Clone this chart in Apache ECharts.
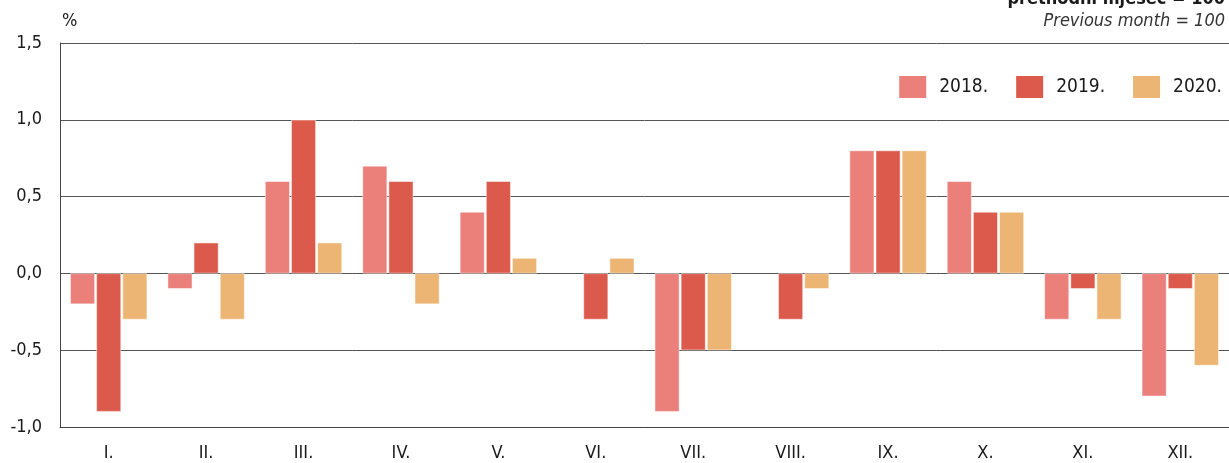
<!DOCTYPE html>
<html>
<head>
<meta charset="utf-8">
<script src="https://cdn.jsdelivr.net/npm/echarts@6/dist/echarts.min.js"></script>
<style>
  html, body { margin: 0; padding: 0; background: #fff; }
  #chart { width: 1229px; height: 463px; }
</style>
</head>
<body>
<div id="chart"></div>
<script>
const months = ["I.", "II.", "III.", "IV.", "V.", "VI.", "VII.", "VIII.", "IX.", "X.", "XI.", "XII."];
const seriesNames = ["2018.", "2019.", "2020."];
const values2018 = [-0.2, -0.1, 0.6, 0.7, 0.4, null, -0.9, null, 0.8, 0.6, -0.3, -0.8];
const values2019 = [-0.9, 0.2, 1.0, 0.6, 0.6, -0.3, -0.5, -0.3, 0.8, 0.4, -0.1, -0.1];
const values2020 = [-0.3, -0.3, 0.2, -0.2, 0.1, 0.1, -0.5, -0.1, 0.8, 0.4, -0.3, -0.6];

const fontFamily = "'Liberation Sans Narrow', 'DejaVu Sans Condensed', 'Liberation Sans', sans-serif";
const colors = ["#eb7f7a", "#dc5a4b", "#edb573"];

const chart = echarts.init(document.getElementById("chart"));

function bar(name, data, color) {
    return {
        name,
        type: "bar",
        data,
        barCategoryGap: "21%",
        barGap: "6%",
        itemStyle: { color, borderColor: "#fff", borderWidth: 0.5 }
    };
}

chart.setOption({
    animation: false,
    textStyle: { fontFamily },
    grid: { left: 60, right: 0, top: 43, bottom: 36 },
    graphic: [
        { type: "text", left: 62, top: 12, style: { text: "%", font: "18px " + fontFamily, fill: "#1a1a1a" } },
        { type: "text", right: 4, top: -10, style: { text: "prethodni mjesec = 100", font: "bold 18px " + fontFamily, fill: "#1a1a1a" } },
        { type: "text", right: 4, top: 12, style: { text: "Previous month = 100", font: "italic 18px " + fontFamily, fill: "#333" } }
    ],
    legend: {
        right: 2,
        top: 69,
        itemWidth: 29,
        itemHeight: 24,
        itemGap: 26,
        icon: "rect",
        textStyle: { fontSize: 19, color: "#1a1a1a", fontFamily, padding: [0, 0, 0, 7] },
        data: seriesNames
    },
    xAxis: {
        type: "category",
        data: months,
        position: "bottom",
        axisLine: { onZero: false, lineStyle: { color: "#444", width: 1 } },
        axisTick: { show: false },
        axisLabel: { color: "#1a1a1a", fontSize: 18, margin: 17, fontFamily }
    },
    yAxis: {
        type: "value",
        min: -1,
        max: 1.5,
        interval: 0.5,
        axisLine: { show: true, lineStyle: { color: "#444", width: 1 } },
        axisTick: { show: false },
        splitLine: { lineStyle: { color: "#555", width: 1 } },
        axisLabel: {
            color: "#1a1a1a",
            fontSize: 18,
            margin: 18,
            fontFamily,
            formatter: v => v.toFixed(1).replace(".", ",")
        }
    },
    series: [
        bar(seriesNames[0], values2018, colors[0]),
        bar(seriesNames[1], values2019, colors[1]),
        bar(seriesNames[2], values2020, colors[2])
    ]
});

window.addEventListener("resize", () => chart.resize());
</script>
</body>
</html>
